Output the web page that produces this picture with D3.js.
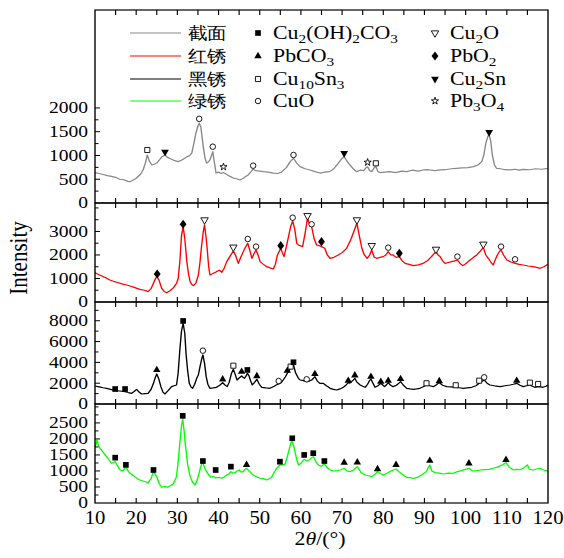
<!DOCTYPE html>
<html>
<head>
<meta charset="utf-8">
<script src="https://cdn.jsdelivr.net/npm/d3@7"></script>
<style>
  body { margin: 0; background: #fff; }
  text { font-family: "Liberation Serif", "Times New Roman", serif; fill: #000; }
</style>
</head>
<body>
<script>
// ---- data: [2theta, intensity] ----
var sectionPts = [[10,640],[11,620],[12,600],[13,575],[14,560],[15,540],[16,500],[17,490],[18,455],[18.5,450],[19,470],[20,520],[21,600],[21.7,700],[22.3,860],[22.7,1010],[23.2,880],[23.8,800],[24.5,820],[25,840],[25.6,900],[26.2,970],[27,1010],[27.6,960],[28.6,920],[29.4,890],[30.2,870],[31,900],[31.6,930],[32.3,970],[33,1000],[33.5,1050],[34,1250],[34.5,1470],[35,1620],[35.3,1680],[35.7,1600],[36.3,1180],[36.7,950],[37.1,840],[37.5,860],[37.9,905],[38.3,1000],[38.6,1080],[38.9,900],[39.4,630],[40,650],[40.6,620],[41.2,640],[42,600],[42.8,560],[43.6,525],[44.4,510],[45.2,485],[46,520],[46.6,560],[47.2,590],[47.8,650],[48.4,715],[49,680],[50,670],[50.9,660],[52,650],[53.3,630],[54.3,620],[55.3,650],[56.5,750],[57.4,870],[58.2,940],[59,840],[59.8,765],[61,720],[62.2,695],[63.4,660],[64.6,630],[65.8,650],[67,660],[68,720],[69.1,840],[69.8,920],[70.5,975],[71.2,880],[71.9,800],[72.7,720],[73.5,660],[74.4,690],[75.2,680],[75.8,740],[76.2,765],[76.7,680],[77.2,660],[77.8,740],[78.2,770],[78.7,660],[79.2,640],[80.4,650],[81.6,660],[83,640],[84.5,670],[85.7,660],[87,690],[88.5,670],[89.7,695],[91,700],[92.5,680],[93.8,695],[95,700],[96.5,720],[97.8,730],[99,740],[100.5,745],[101.9,765],[103,800],[103.9,870],[104.4,1000],[104.9,1256],[105.4,1400],[105.7,1431],[106.1,1300],[106.5,1000],[107,800],[107.5,730],[108.5,720],[109.5,700],[110.8,695],[112,710],[113,690],[114,709],[115.5,700],[117,720],[118.5,710],[120,730]];

var redPts = [[10,1240],[10.5,1200],[11.5,1120],[12.5,1040],[13.6,936],[14.5,880],[15.5,830],[16.5,770],[17.7,723],[18.5,680],[19.5,620],[20.9,539],[22,500],[22.9,440],[23.6,560],[24.2,794],[24.7,1000],[25.1,1078],[25.6,900],[26.2,582],[26.8,450],[27.4,397],[28.2,480],[29,600],[29.8,794],[30.2,1000],[30.6,1716],[31,2800],[31.4,3205],[31.8,2700],[32.3,1716],[32.7,1200],[33.1,865],[33.5,740],[33.9,695],[34.5,800],[35.1,1149],[35.5,1700],[35.9,2425],[36.3,3000],[36.6,3276],[37,2700],[37.3,2142],[37.6,1500],[37.9,1149],[38.5,1200],[39.5,1291],[40.2,1350],[40.8,1262],[41.4,1450],[42,1716],[42.8,1950],[43.6,2170],[44.1,2000],[44.8,1645],[45.4,1900],[46,2142],[46.6,2350],[47.1,2496],[47.6,2200],[48.1,1858],[48.6,2050],[49.1,2213],[49.6,2000],[50.1,1716],[50.9,1600],[51.7,1503],[52.5,1450],[53.3,1404],[53.8,1600],[54.3,2000],[55.1,2284],[55.5,2100],[55.9,1929],[56.4,2300],[56.9,2709],[57.5,3200],[58,3447],[58.5,3100],[59,2496],[59.4,2425],[60.4,2354],[61,2900],[61.6,3560],[62.1,3300],[62.6,3205],[63.2,2700],[63.8,2425],[64.4,2400],[65,2354],[65.8,2284],[66.4,2000],[67.1,1858],[68,1900],[69.1,2000],[70,2100],[71.1,2284],[72,2600],[72.7,2922],[73.6,3347],[74.2,2800],[74.8,2284],[75.4,2000],[76.1,1858],[76.7,2000],[77.2,2213],[77.8,1900],[78.4,1858],[79.2,1900],[80,1929],[80.6,2000],[81.2,2142],[81.8,2000],[82.4,2000],[83.1,1900],[83.9,1929],[84.6,1750],[85.3,1645],[86.3,1600],[87.3,1546],[88.5,1580],[89.7,1645],[90.7,1750],[91.7,1929],[92.3,2050],[92.8,2142],[93.3,2000],[93.8,1929],[94.4,1750],[95,1645],[95.8,1680],[96.6,1716],[97.3,1750],[98,1787],[98.6,1650],[99.3,1546],[100.2,1650],[101.1,1787],[101.9,1900],[102.7,2000],[103.5,2150],[104.3,2312],[104.9,2000],[105.5,1858],[106.1,1700],[106.7,1574],[107.2,1800],[107.7,2000],[108.2,2150],[108.6,2213],[109.2,2000],[110,1787],[111,1700],[112,1645],[113,1600],[114,1574],[115.2,1530],[116.4,1503],[117.2,1470],[118.1,1433],[119,1500],[120,1603]];

var blackPts = [[10,1731],[11,1650],[12,1560],[12.8,1506],[13.8,1400],[14.9,1282],[16,1250],[17.3,1186],[18.1,1100],[18.9,1026],[19.5,1200],[20.1,1410],[20.7,1150],[21.3,962],[22.1,1000],[22.9,1026],[23.6,1400],[24.2,1987],[24.6,2500],[25,2885],[25.5,2400],[26,1667],[26.5,1150],[27,962],[27.8,1300],[28.6,1667],[29.2,1750],[29.8,1827],[30.2,3000],[30.6,5192],[31,7000],[31.4,7756],[31.8,6800],[32.1,4872],[32.5,3200],[32.9,1987],[33.3,1650],[33.7,1506],[34.2,1900],[34.7,2468],[35.1,2800],[35.5,3590],[35.9,4300],[36.2,4711],[36.6,3900],[37,2628],[37.4,1900],[37.9,1506],[38.7,1550],[39.5,1603],[40.3,1800],[41,2051],[41.5,1850],[42.1,1667],[42.6,2100],[43.1,2900],[43.6,3333],[44,2900],[44.5,2308],[45,2500],[45.6,2692],[46,2550],[46.3,2468],[46.7,2700],[47,2949],[47.4,2700],[47.8,2200],[48.2,1827],[48.8,2100],[49.3,2372],[49.9,1900],[50.5,1603],[51.5,1550],[52.5,1506],[53.5,1700],[54.1,1850],[54.6,1923],[55.2,2050],[55.7,2308],[56.2,2600],[56.7,2949],[57.1,3200],[57.5,3430],[57.8,3600],[58.2,3750],[58.7,3000],[59.4,2468],[59.8,2308],[60.6,2250],[61.4,2147],[62,2200],[62.6,2308],[63,2450],[63.4,2628],[64,2200],[64.6,1987],[65.4,1987],[66.2,1750],[67.1,1506],[67.9,1400],[68.7,1346],[69.5,1450],[70.3,1603],[70.9,1800],[71.5,2051],[71.9,2000],[72.3,2147],[72.7,2300],[73.1,2468],[73.6,2100],[74.4,1827],[75,1700],[75.6,1603],[76.2,1900],[76.6,2200],[77,2404],[77.5,2000],[78,1603],[78.7,1750],[79.4,1987],[79.8,1850],[80.3,1667],[80.8,1850],[81.2,2051],[81.8,1800],[82.4,1667],[83.2,1800],[83.8,2000],[84.2,2147],[84.9,1800],[85.7,1506],[86.5,1450],[87.3,1410],[88.1,1450],[88.9,1506],[89.7,1650],[90.5,1827],[91.3,1750],[92.2,1667],[92.9,1850],[93.6,2051],[94.4,1800],[95.4,1667],[96.5,1650],[97.6,1603],[98.5,1560],[99.4,1506],[100.4,1550],[101.5,1603],[102.5,1750],[103.3,1987],[103.9,2150],[104.5,2308],[105.2,2000],[105.9,1827],[107,1750],[108.4,1667],[109.6,1750],[110.8,1827],[111.6,1900],[112.4,1987],[113.2,1800],[114,1667],[114.8,1750],[115.6,1827],[116.2,1700],[116.8,1603],[117.6,1667],[118.2,1650],[118.8,1603],[119.5,1700],[120,1827]];

var greenPts = [[10,1760],[10.3,1850],[10.5,1969],[10.8,1800],[11.2,1708],[12,1580],[12.8,1448],[13.4,1350],[14,1240],[14.5,1260],[14.9,1292],[15.5,1150],[16.1,1031],[16.8,1000],[17.5,1135],[18,1000],[18.5,927],[19.5,840],[20.3,760],[20.9,719],[21.8,680],[22.9,635],[23.6,760],[24.2,979],[24.6,900],[25,823],[25.6,600],[26.2,490],[27,520],[27.6,490],[28.2,531],[29,600],[29.8,823],[30.2,1300],[30.6,1865],[31,2400],[31.3,2615],[31.6,2300],[31.9,1865],[32.5,1200],[33.1,823],[33.7,650],[34.3,563],[34.9,750],[35.5,1050],[35.9,1220],[36.2,1260],[36.6,1100],[37.1,979],[37.6,880],[38.1,802],[38.7,830],[39.3,780],[40,800],[40.8,771],[41.4,820],[42,875],[42.5,900],[43,979],[43.5,930],[44,948],[44.5,1000],[45,1031],[45.5,960],[46,979],[46.4,1050],[46.8,1083],[47.4,1000],[48.4,875],[49.2,820],[50.1,771],[50.9,760],[51.7,719],[52.3,760],[52.9,802],[53.5,950],[54.1,1083],[54.9,1188],[55.5,1200],[56.1,1188],[56.7,1450],[57.2,1700],[57.6,1880],[57.9,1917],[58.3,1750],[59,1350],[59.4,1188],[60.1,1250],[60.8,1365],[61.4,1320],[62,1344],[62.5,1400],[63,1448],[63.6,1300],[64.2,1188],[64.9,1150],[65.7,1219],[66.4,1100],[67.1,1031],[67.9,1000],[68.7,1010],[69.6,1031],[70.5,1083],[71.2,1000],[71.9,979],[72.8,1031],[73.7,1135],[74.6,950],[75.6,875],[76.4,850],[77.2,823],[78,900],[78.6,979],[79.3,920],[80,875],[80.8,920],[81.6,979],[82.4,1031],[83.1,1060],[83.8,980],[84.5,906],[85.1,850],[85.7,802],[86.5,790],[87.3,771],[88.3,800],[89.3,875],[89.9,930],[90.5,979],[90.9,1100],[91.3,1188],[91.8,1000],[92.6,948],[93.6,930],[94.6,906],[95.8,930],[97,927],[98,980],[99,1010],[99.9,1050],[100.8,1083],[101.7,1000],[102.7,1010],[103.7,1031],[104.7,1040],[105.7,1050],[106.7,1083],[107.7,1120],[108.8,1188],[109.3,1220],[109.8,1260],[110.6,1120],[111.6,1031],[112.4,1050],[113.2,1040],[114.2,1100],[115,1188],[115.5,1050],[116.4,1031],[117.2,1060],[118.1,1083],[118.9,1031],[119.7,1010],[120,1000]];

// phase markers: [2theta, intensity, phase]
var sectionMarks = [[22.7,1115,"osq"],[27,1075,"fdtri"],[35.3,1770,"circ"],[38.6,1185,"circ"],[41.2,760,"star"],[48.4,785,"circ"],[58.2,1010,"circ"],[70.5,1045,"fdtri"],[76.2,855,"star"],[78.2,835,"osq"],[105.7,1490,"fdtri"]];
var redMarks = [[25.1,1190,"dia"],[31.4,3305,"dia"],[36.6,3490,"dtri"],[43.6,2330,"dtri"],[47.1,2680,"circ"],[49.1,2355,"circ"],[55.1,2395,"dia"],[58,3585,"circ"],[61.6,3670,"dtri"],[62.6,3305,"circ"],[65,2565,"dia"],[73.6,3490,"dtri"],[77.2,2395,"dtri"],[81.2,2310,"circ"],[83.9,2070,"dia"],[92.8,2240,"dtri"],[98,1930,"circ"],[104.3,2455,"dtri"],[108.6,2355,"circ"],[112,1815,"circ"]];
var blackMarks = [[14.9,1440,"sq"],[17.3,1440,"sq"],[25,3270,"tri"],[31.4,7980,"sq"],[36.2,5125,"circ"],[41,2375,"tri"],[43.6,3680,"osq"],[45.6,3105,"tri"],[47,3270,"sq"],[49.3,2690,"tri"],[54.6,2210,"circ"],[56.7,3200,"tri"],[57.5,3590,"osq"],[58.2,4010,"sq"],[61.4,2375,"circ"],[63.4,2885,"tri"],[71.5,2240,"tri"],[73.1,2760,"tri"],[77,2625,"tri"],[79.4,2145,"tri"],[81.2,2240,"tri"],[84.2,2405,"tri"],[90.5,1990,"osq"],[93.6,2210,"tri"],[97.6,1800,"osq"],[103.3,2240,"osq"],[104.5,2565,"circ"],[112.4,2240,"tri"],[115.6,2050,"osq"],[117.6,1925,"osq"]];
var greenMarks = [[14.9,1415,"sq"],[17.5,1190,"sq"],[24.2,1030,"sq"],[31.3,2720,"sq"],[36.2,1310,"sq"],[39.3,1030,"sq"],[43,1135,"sq"],[46.8,1190,"tri"],[54.9,1290,"sq"],[57.9,2020,"sq"],[60.8,1500,"sq"],[63,1555,"sq"],[65.7,1310,"sq"],[70.5,1260,"tri"],[73.7,1270,"tri"],[78.6,1060,"tri"],[83.1,1190,"tri"],[91.3,1320,"tri"],[100.8,1240,"tri"],[109.8,1345,"tri"]];

var sampleNames = ["截面", "红锈", "黑锈", "绿锈"];
var phaseCol1 = [["sq", "Cu_2(OH)_2CO_3"], ["tri", "PbCO_3"], ["osq", "Cu_10Sn_3"], ["circ", "CuO"]];
var phaseCol2 = [["dtri", "Cu_2O"], ["dia", "PbO_2"], ["fdtri", "Cu_2Sn"], ["star", "Pb_3O_4"]];
var xTicks = [10, 20, 30, 40, 50, 60, 70, 80, 90, 100, 110, 120];

// the reference is stretched sideways a little; draw in a narrower viewBox
var K = 1.15;
var svgWidth = 564, svgHeight = 558;
var svg = d3.select("body").append("svg")
  .attr("width", svgWidth)
  .attr("height", svgHeight)
  .attr("viewBox", `0 0 ${svgWidth / K} ${svgHeight}`)
  .attr("preserveAspectRatio", "none");

var left = 95 / K, right = 548 / K;
var xScale = d3.scaleLinear().domain([10, 120]).range([left, right]);

var panels = [
  { pts: sectionPts, marks: sectionMarks, color: "#888888", top: 10, bottom: 203, max: 4060, labels: [0, 500, 1000, 1500, 2000], minor: 250, minorMax: 2000 },
  { pts: redPts, marks: redMarks, color: "#ff0000", top: 203, bottom: 302, max: 4210, labels: [0, 1000, 2000, 3000], minor: 500, minorMax: 4000 },
  { pts: blackPts, marks: blackMarks, color: "#000000", top: 302, bottom: 404, max: 9800, labels: [0, 2000, 4000, 6000, 8000], minor: 1000, minorMax: 9000 },
  { pts: greenPts, marks: greenMarks, color: "#00ff00", top: 404, bottom: 503, max: 3090, labels: [0, 500, 1000, 1500, 2000, 2500], minor: 250, minorMax: 3000 }
];

var markerStyle = {
  sq:    { type: d3.symbolSquare,   size: 32, fill: "#000", rot: 0 },
  tri:   { type: d3.symbolTriangle, size: 24, fill: "#000", rot: 0 },
  osq:   { type: d3.symbolSquare,   size: 26, fill: "#fff", rot: 0 },
  circ:  { type: d3.symbolCircle,   size: 24, fill: "#fff", rot: 0 },
  dtri:  { type: d3.symbolTriangle, size: 24, fill: "#fff", rot: 180 },
  dia:   { type: d3.symbolDiamond,  size: 24, fill: "#000", rot: 0 },
  fdtri: { type: d3.symbolTriangle, size: 26, fill: "#000", rot: 180 },
  star:  { type: d3.symbolStar,     size: 16, fill: "#fff", rot: 0 }
};

function drawMarker(g, x, y, kind) {
  var st = markerStyle[kind];
  g.append("path")
    .attr("d", d3.symbol().type(st.type).size(st.size)())
    .attr("transform", `translate(${x},${y}) scale(${kind === "dia" ? 1.3 / K : 1 / K},1) rotate(${st.rot})`)
    .attr("fill", st.fill)
    .attr("stroke", st.fill === "#fff" ? "#000" : "none")
    .attr("stroke-width", 0.9);
}

// chemical formula with "_n" subscripts
function formulaText(sel, str, size) {
  var parts = str.split(/_(\d+)/);
  parts.forEach(function(p, i) {
    if (p === "") return;
    if (i % 2 === 1) {
      sel.append("tspan").attr("font-size", size * 0.7).attr("dy", 4).text(p);
    } else {
      var t = sel.append("tspan").text(p);
      if (i > 0) t.attr("dy", -4);
    }
  });
}

panels.forEach(function(p) {
  var y = d3.scaleLinear().domain([0, p.max]).range([p.bottom, p.top]);
  var g = svg.append("g");

  // curve
  g.append("path")
    .datum(p.pts)
    .attr("fill", "none")
    .attr("stroke", p.color)
    .attr("stroke-width", 1.2)
    .attr("stroke-linejoin", "round")
    .attr("d", d3.line().x(d => xScale(d[0])).y(d => y(d[1])));

  // markers
  p.marks.forEach(function(m) {
    drawMarker(g, xScale(m[0]), y(m[1]), m[2]);
  });

  // x ticks, top and bottom, pointing inward
  d3.range(15, 120, 5).forEach(function(t) {
    g.append("line").attr("x1", xScale(t)).attr("x2", xScale(t))
      .attr("y1", p.bottom).attr("y2", p.bottom - 5).attr("stroke", "#000").attr("stroke-width", 1);
    g.append("line").attr("x1", xScale(t)).attr("x2", xScale(t))
      .attr("y1", p.top).attr("y2", p.top + 5).attr("stroke", "#000").attr("stroke-width", 1);
  });

  // y ticks
  d3.range(p.minor, p.minorMax + 1, p.minor).forEach(function(v) {
    var major = p.labels.indexOf(v) >= 0;
    g.append("line").attr("x1", left).attr("x2", left + (major ? 5 : 3.5) / K)
      .attr("y1", y(v)).attr("y2", y(v)).attr("stroke", "#000").attr("stroke-width", 1);
  });
  p.labels.forEach(function(v) {
    g.append("text")
      .attr("x", 88 / K).attr("y", y(v) + 5.5)
      .attr("text-anchor", "end")
      .attr("font-size", 17)
      .text(v);
  });

  // frame
  g.append("rect")
    .attr("x", left).attr("y", p.top)
    .attr("width", right - left).attr("height", p.bottom - p.top)
    .attr("fill", "none").attr("stroke", "#000").attr("stroke-width", 1.2);
});

// x tick labels
xTicks.forEach(function(t) {
  svg.append("text")
    .attr("x", xScale(t)).attr("y", 524)
    .attr("text-anchor", "middle")
    .attr("font-size", 18)
    .text(t);
});

// axis titles
var xt = svg.append("text")
  .attr("x", 320 / K).attr("y", 545)
  .attr("text-anchor", "middle")
  .attr("font-size", 19);
xt.append("tspan").text("2");
xt.append("tspan").attr("font-style", "italic").text("θ");
xt.append("tspan").text("/(°)");

svg.append("text")
  .attr("transform", `translate(${27 / K},258) rotate(-90)`)
  .attr("text-anchor", "middle")
  .attr("font-size", 21)
  .text("Intensity");

// legend
var rows = [33, 56, 79, 101];
sampleNames.forEach(function(name, i) {
  svg.append("line")
    .attr("x1", 130 / K).attr("x2", 181 / K)
    .attr("y1", rows[i]).attr("y2", rows[i])
    .attr("stroke", panels[i].color).attr("stroke-width", 1.2);
  svg.append("text")
    .attr("x", 188 / K).attr("y", rows[i] + 6)
    .attr("font-family", "'Noto Sans CJK SC', sans-serif")
    .attr("font-size", 17)
    .text(name);
});
[[phaseCol1, 258, 273], [phaseCol2, 435, 450]].forEach(function(col) {
  col[0].forEach(function(item, i) {
    drawMarker(svg, col[1] / K, rows[i], item[0]);
    var t = svg.append("text")
      .attr("x", col[2] / K).attr("y", rows[i] + 6)
      .attr("font-size", 19);
    formulaText(t, item[1], 19);
  });
});
</script>
</body>
</html>
